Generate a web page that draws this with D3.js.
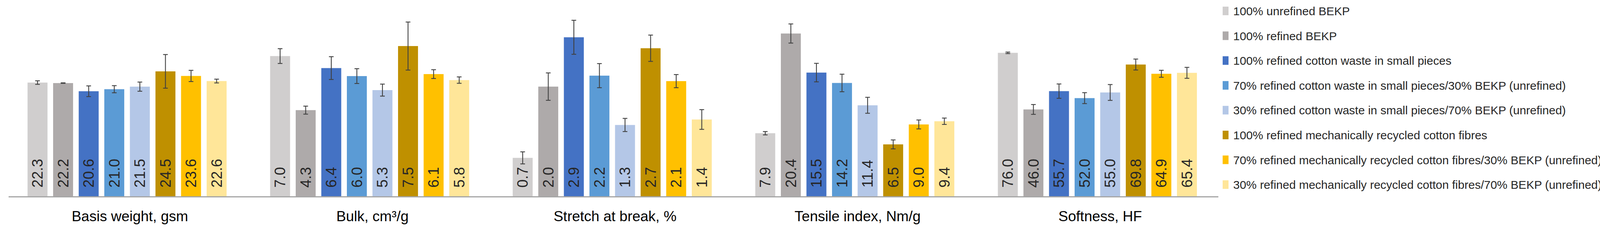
<!DOCTYPE html>
<html>
<head>
<meta charset="utf-8">
<script src="https://cdn.jsdelivr.net/npm/d3@7"></script>
<style>
  body { margin: 0; background: #fff; }
  text { font-family: "Liberation Sans", Arial, sans-serif; }
</style>
</head>
<body>
<svg id="chart" width="4352" height="587"></svg>
<script>
// ── 데이터 ──────────────────────────────────────────────────────────────
const categories = ['Basis weight, gsm', 'Bulk, cm³/g', 'Stretch at break, %', 'Tensile index, Nm/g', 'Softness, HF'];
const series = [
  '100% unrefined BEKP',
  '100% refined BEKP',
  '100% refined cotton waste in small pieces',
  '70% refined cotton waste in small pieces/30% BEKP (unrefined)',
  '30% refined cotton waste in small pieces/70% BEKP (unrefined)',
  '100% refined mechanically recycled cotton fibres',
  '70% refined mechanically recycled cotton fibres/30% BEKP (unrefined)',
  '30% refined mechanically recycled cotton fibres/70% BEKP (unrefined)'
];
const colors = ['#D0CECE', '#AEAAAA', '#4472C4', '#5B9BD5', '#B4C7E7', '#BF9000', '#FFC000', '#FFE699'];
// 값: 카테고리별, 시리즈 순서
const values = [
  [22.3, 22.2, 20.6, 21.0, 21.5, 24.5, 23.6, 22.6],
  [7.0, 4.3, 6.4, 6.0, 5.3, 7.5, 6.1, 5.8],
  [0.7, 2.0, 2.9, 2.2, 1.3, 2.7, 2.1, 1.4],
  [7.9, 20.4, 15.5, 14.2, 11.4, 6.5, 9.0, 9.4],
  [76.0, 46.0, 55.7, 52.0, 55.0, 69.8, 64.9, 65.4]
];
const errors = [
  [0.35, 0.05, 1.05, 0.7, 0.9, 3.3, 1.1, 0.37],
  [0.37, 0.2, 0.57, 0.37, 0.3, 1.2, 0.22, 0.16],
  [0.11, 0.25, 0.31, 0.22, 0.12, 0.24, 0.12, 0.18],
  [0.21, 1.2, 1.16, 1.1, 1.0, 0.56, 0.56, 0.4],
  [0.4, 2.6, 3.8, 2.9, 4.2, 2.9, 1.85, 2.9]
];
// 카테고리별 축 최대값 (그림에서 추정)
const yMax = [38.5, 9.8, 3.58, 24.6, 104.0];

// ── 레이아웃 ─────────────────────────────────────────────────────────────
const baseY = 503;
const svg = d3.select('#chart');

const x0 = d3.scaleBand().domain(categories).range([22, 3127]).padding(0);
const x1 = d3.scaleBand().domain(series).range([41.3, 565.3]).paddingInner(0.22).paddingOuter(0.11);
const yScales = yMax.map(m => d3.scaleLinear().domain([0, m]).range([baseY, 0]));

const groups = svg.selectAll('g.cat')
  .data(categories)
  .join('g')
  .attr('class', 'cat')
  .attr('transform', d => `translate(${x0(d)},0)`);

groups.each(function (cat, ci) {
  const g = d3.select(this);
  const y = yScales[ci];
  const rows = series.map((s, si) => ({ s, si, v: values[ci][si], e: errors[ci][si] }));

  g.selectAll('rect')
    .data(rows)
    .join('rect')
    .attr('x', d => x1(d.s))
    .attr('width', x1.bandwidth())
    .attr('y', d => y(d.v))
    .attr('height', d => baseY - y(d.v))
    .attr('fill', d => colors[d.si]);

  // 오차 막대
  const eb = g.selectAll('g.err').data(rows).join('g').attr('class', 'err')
    .attr('transform', d => `translate(${x1(d.s) + x1.bandwidth() / 2},0)`)
    .attr('stroke', '#404040').attr('stroke-width', 2.2);
  eb.append('line').attr('y1', d => y(d.v + d.e)).attr('y2', d => y(d.v - d.e));
  eb.append('line').attr('x1', -6).attr('x2', 6).attr('y1', d => y(d.v + d.e)).attr('y2', d => y(d.v + d.e));
  eb.append('line').attr('x1', -6).attr('x2', 6).attr('y1', d => y(d.v - d.e)).attr('y2', d => y(d.v - d.e));

  // 값 라벨 (세로)
  g.selectAll('text.val')
    .data(rows)
    .join('text')
    .attr('class', 'val')
    .attr('transform', d => `translate(${x1(d.s) + x1.bandwidth() / 2 + 13},${baseY - 22}) rotate(-90)`)
    .attr('font-size', 38)
    .attr('fill', '#262626')
    .text(d => d.v.toFixed(1));

  g.append('text')
    .attr('x', x0.bandwidth() / 2)
    .attr('y', 567)
    .attr('text-anchor', 'middle')
    .attr('font-size', 37)
    .attr('fill', '#000')
    .text(cat);
});

// ── 축 기준선 ────────────────────────────────────────────────────────────
svg.append('line')
  .attr('x1', 22).attr('x2', 3119)
  .attr('y1', baseY + 1.5).attr('y2', baseY + 1.5)
  .attr('stroke', '#A6A6A6').attr('stroke-width', 3);

// ── 범례 ─────────────────────────────────────────────────────────────────
const legend = svg.selectAll('g.leg')
  .data(series)
  .join('g')
  .attr('class', 'leg')
  .attr('transform', (d, i) => `translate(3130,${28 + i * 63.6})`);
legend.append('rect').attr('x', 0).attr('y', -11).attr('width', 15).attr('height', 22)
  .attr('fill', (d, i) => colors[i]);
legend.append('text').attr('x', 27).attr('y', 11)
  .attr('font-size', 30).attr('fill', '#262626')
  .text(d => d)
  .each(function () {
    if (this.getComputedTextLength() > 1185) {
      d3.select(this).attr('textLength', 1185).attr('lengthAdjust', 'spacingAndGlyphs');
    }
  });
</script>
</body>
</html>
